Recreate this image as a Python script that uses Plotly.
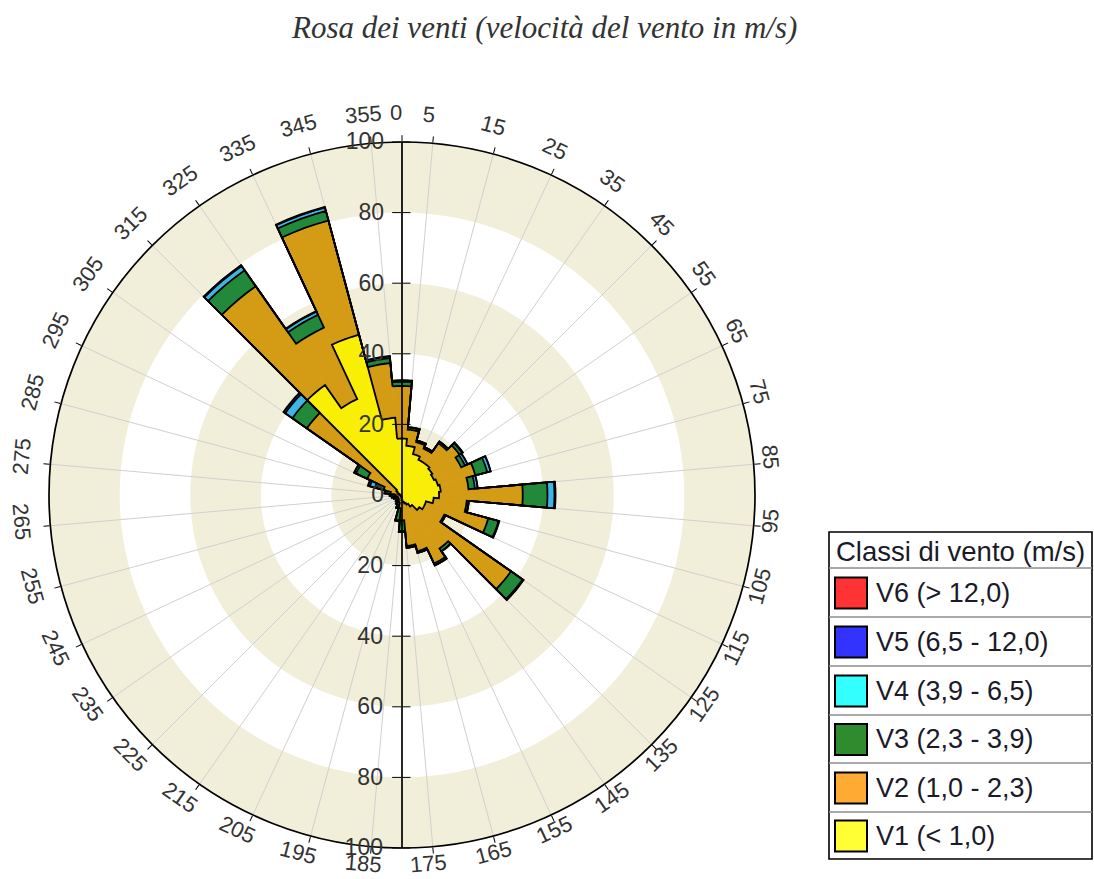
import math
import plotly.graph_objects as go

# ---- data: wind rose, frequency per 10-degree sector, by speed class ----
directions = [0, 10, 20, 30, 40, 50, 60, 70, 80, 90, 100, 110, 120, 130, 140, 150, 160, 170,
              180, 190, 200, 210, 220, 230, 240, 250, 260, 270, 280, 290, 300, 310, 320, 330, 340, 350]

v1 = [16, 14, 12, 11, 11, 10.5, 10, 10.5, 11, 10.5, 9, 7, 7, 6, 4, 3, 2.5, 2,
      1.5, 0.8, 0.5, 0.5, 0.4, 0.4, 0.4, 0.4, 0.5, 0.5, 0.6, 1, 1.5, 2, 38, 30, 47, 22]
v2 = [14.9, 4.6, 3.5, 3.5, 6.9, 9.4, 8.5, 11, 7.9, 23.7, 9.4, 18.3, 6.2, 31.7, 14.5, 18.4, 14, 12.5,
      5.7, 2.9, 1.8, 1.4, 1.2, 0.9, 0.9, 1.2, 1.4, 1.6, 2.7, 4.4, 9.4, 30.9, 34.2, 22.3, 33.5, 15.5]
v3 = [1.2, 0.6, 0.5, 0.5, 0.6, 0.9, 1.2, 3.5, 1.8, 7, 0.6, 3, 0.4, 4, 1, 0.6, 0.5, 0.5,
      3, 3.5, 1.5, 1, 0.8, 0.6, 0.6, 0.8, 1, 1.2, 1.5, 2.5, 3.5, 5, 5.5, 4, 2.8, 1.4]
v4 = [0.3, 0.1, 0, 0, 0, 0.2, 0.8, 1, 0.8, 2, 0, 0.2, 0, 0.3, 0, 0, 0, 0,
      0.3, 0.3, 0.2, 0.1, 0.1, 0.1, 0.1, 0.1, 0.1, 0.2, 0.2, 1.5, 0.5, 2.5, 1.5, 1, 1, 0.5]
v5 = [0.1, 0, 0, 0, 0, 0, 0, 0, 0, 0.3, 0, 0, 0, 0, 0, 0, 0, 0,
      0, 0, 0, 0, 0, 0, 0, 0, 0, 0, 0, 0.6, 0.1, 0.6, 0.3, 0.2, 0.2, 0.1]
v6 = [0] * 36

class_names = ["V1 (&lt; 1,0)", "V2 (1,0 - 2,3)", "V3 (2,3 - 3,9)",
               "V4 (3,9 - 6,5)", "V5 (6,5 - 12,0)", "V6 (&gt; 12,0)"]
class_values = [v1, v2, v3, v4, v5, v6]
bar_colors = ["#F9EF05", "#D39C14", "#22893A", "#3DB6E6", "#1C2D99", "#E02020"]
legend_colors = ["#FFFF33", "#FFAA33", "#2E8B2E", "#33FFFF", "#3333FF", "#FF3333"]

radial_ticks = [0, 20, 40, 60, 80, 100]
angle_ticks = [0, 5, 15, 25, 35, 45, 55, 65, 75, 85, 95, 105, 115, 125, 135, 145, 155, 165, 175,
               185, 195, 205, 215, 225, 235, 245, 255, 265, 275, 285, 295, 305, 315, 325, 335, 345, 355]
band_lo = [0, 40, 80]
band_hi = [20, 60, 100]
SECTOR = 10

# ---- page geometry (pixels) ----
W, H = 1094, 879
CX, CY, R = 402, 495, 353


def px(x):
    return x / W


def py(y):
    return 1 - y / H


dom = dict(x=[px(CX - R), px(CX + R)], y=[py(CY + R), py(CY - R)])
FONT = "Liberation Sans, Arial, sans-serif"
TXT = "#333333"
BAND = "#F1EFDA"

fig = go.Figure()

# background rings
for lo, hi in zip(band_lo, band_hi):
    fig.add_trace(go.Barpolar(r=[hi - lo, hi - lo], base=[lo, lo], theta=[90, 270], width=[180, 180],
                              marker=dict(color=BAND, line=dict(width=0)),
                              subplot="polar", hoverinfo="skip", showlegend=False))

# stacked sectors (fill only)
for name, vals, col in zip(class_names, class_values, bar_colors):
    fig.add_trace(go.Barpolar(r=vals, theta=directions, width=[SECTOR] * len(directions), name=name,
                              marker=dict(color=col, line=dict(color=col, width=0.6)),
                              subplot="polar2", showlegend=False))

# stepped black contour of each cumulative class level
running = [0.0] * len(directions)
for vals in class_values[:-1]:
    running = [a + b for a, b in zip(running, vals)]
    rr, tt = [], []
    for c, d in zip(running, directions):
        for off in (-5, -2.5, 0, 2.5, 5):
            rr.append(c)
            tt.append(d + off * SECTOR / 10)
    rr.append(rr[0])
    tt.append(tt[0])
    fig.add_trace(go.Scatterpolar(r=rr, theta=tt, mode="lines", line=dict(color="black", width=1.8),
                                  subplot="polar2", hoverinfo="skip", showlegend=False))

for sp in ["polar3", "polar4", "polar5"]:
    fig.add_trace(go.Scatterpolar(r=[], theta=[], subplot=sp, showlegend=False, hoverinfo="skip"))

ang_hidden = dict(visible=False, rotation=90, direction="clockwise")
tickfont = dict(family=FONT, size=23, color=TXT)

fig.update_layout(
    width=W, height=H,
    margin=dict(l=0, r=0, t=0, b=0),
    paper_bgcolor="white",
    polar=dict(domain=dom, bgcolor="white", angularaxis=ang_hidden,
               radialaxis=dict(visible=False, range=[0, 100])),
    polar2=dict(
        domain=dom, bgcolor="rgba(0,0,0,0)", barmode="stack",
        angularaxis=dict(rotation=90, direction="clockwise", tickmode="array", tickvals=angle_ticks,
                         showticklabels=False, ticks="outside", ticklen=6, tickcolor="black",
                         tickwidth=1.3, showline=True, linecolor="black", linewidth=1.7,
                         showgrid=True, gridcolor="#D0D0D0", gridwidth=1.4, layer="below traces"),
        radialaxis=dict(range=[0, 100], angle=90, side="counterclockwise", tickmode="array",
                        tickvals=radial_ticks, ticks="outside", ticklen=9, tickcolor="black",
                        tickwidth=1.4, showline=True, linecolor="black", linewidth=1.7,
                        showgrid=False, tickfont=tickfont, tickangle=90, layer="above traces"),
    ),
    polar3=dict(
        domain=dom, bgcolor="rgba(0,0,0,0)", angularaxis=ang_hidden,
        radialaxis=dict(range=[0, 100], angle=270, side="clockwise", tickmode="array",
                        tickvals=radial_ticks[1:], ticks="outside", ticklen=9, tickcolor="black",
                        tickwidth=1.4, showline=True, linecolor="black", linewidth=1.7,
                        showgrid=False, tickfont=tickfont, tickangle=-90, layer="above traces"),
    ),
    polar4=dict(
        domain=dom, bgcolor="rgba(0,0,0,0)", angularaxis=ang_hidden,
        radialaxis=dict(range=[0, 100], angle=90, side="counterclockwise", tickmode="array",
                        tickvals=radial_ticks[1:], ticks="inside", ticklen=8, tickcolor="black",
                        tickwidth=1.4, showline=False, showticklabels=False, showgrid=False,
                        layer="above traces"),
    ),
    polar5=dict(
        domain=dom, bgcolor="rgba(0,0,0,0)", angularaxis=ang_hidden,
        radialaxis=dict(range=[0, 100], angle=270, side="clockwise", tickmode="array",
                        tickvals=radial_ticks[1:], ticks="inside", ticklen=8, tickcolor="black",
                        tickwidth=1.4, showline=False, showticklabels=False, showgrid=False,
                        layer="above traces"),
    ),
)

annotations = []
shapes = []

# title
annotations.append(dict(text="<i>Rosa dei venti (velocità del vento in m/s)</i>", x=px(544), y=py(28),
                        xref="paper", yref="paper", xanchor="center", yanchor="middle", showarrow=False,
                        font=dict(family="Liberation Serif, Times New Roman, serif", size=31, color="#333333")))

# compass labels, written tangentially around the rim
LCX, LCY, LR = CX - 6, CY - 6, 376
for a in angle_ticks:
    rad = math.radians(a)
    lx = LCX + LR * math.sin(rad)
    ly = LCY - LR * math.cos(rad)
    if a <= 90:
        rot = a
    elif a < 270:
        rot = a - 180
    else:
        rot = a - 360
    annotations.append(dict(text=str(a), x=px(lx), y=py(ly), xref="paper", yref="paper",
                            xanchor="center", yanchor="middle", showarrow=False, textangle=rot,
                            font=dict(family=FONT, size=22, color=TXT)))

# legend table
LX0, LX1, LY0, LY1 = 829, 1092, 532, 859
row_edges = [568, 617, 666, 715, 763, 812, 859]
shapes.append(dict(type="rect", xref="paper", yref="paper", x0=px(LX0), x1=px(LX1), y0=py(LY1), y1=py(LY0),
                   line=dict(color="black", width=1.6), fillcolor="white", layer="above"))
for e in row_edges[:-1]:
    shapes.append(dict(type="line", xref="paper", yref="paper", x0=px(LX0), x1=px(LX1), y0=py(e), y1=py(e),
                       line=dict(color="#8C8C8C", width=1.6), layer="above"))
annotations.append(dict(text="Classi di vento (m/s)", x=px(834), y=py(551), xref="paper", yref="paper",
                        xanchor="left", yanchor="middle", showarrow=False,
                        font=dict(family=FONT, size=27.5, color="#1A1A2A")))
for i, k in enumerate(range(5, -1, -1)):
    top, bot = row_edges[i], row_edges[i + 1]
    mid = (top + bot) / 2
    shapes.append(dict(type="rect", xref="paper", yref="paper", x0=px(835), x1=px(867),
                       y0=py(mid + 16), y1=py(mid - 15), fillcolor=legend_colors[k],
                       line=dict(color="black", width=2), layer="above"))
    annotations.append(dict(text=class_names[k], x=px(874), y=py(mid), xref="paper", yref="paper",
                            xanchor="left", yanchor="middle", showarrow=False,
                            font=dict(family=FONT, size=27, color="#1A1A2A")))

fig.update_layout(annotations=annotations, shapes=shapes)
fig.write_html("out.html")
